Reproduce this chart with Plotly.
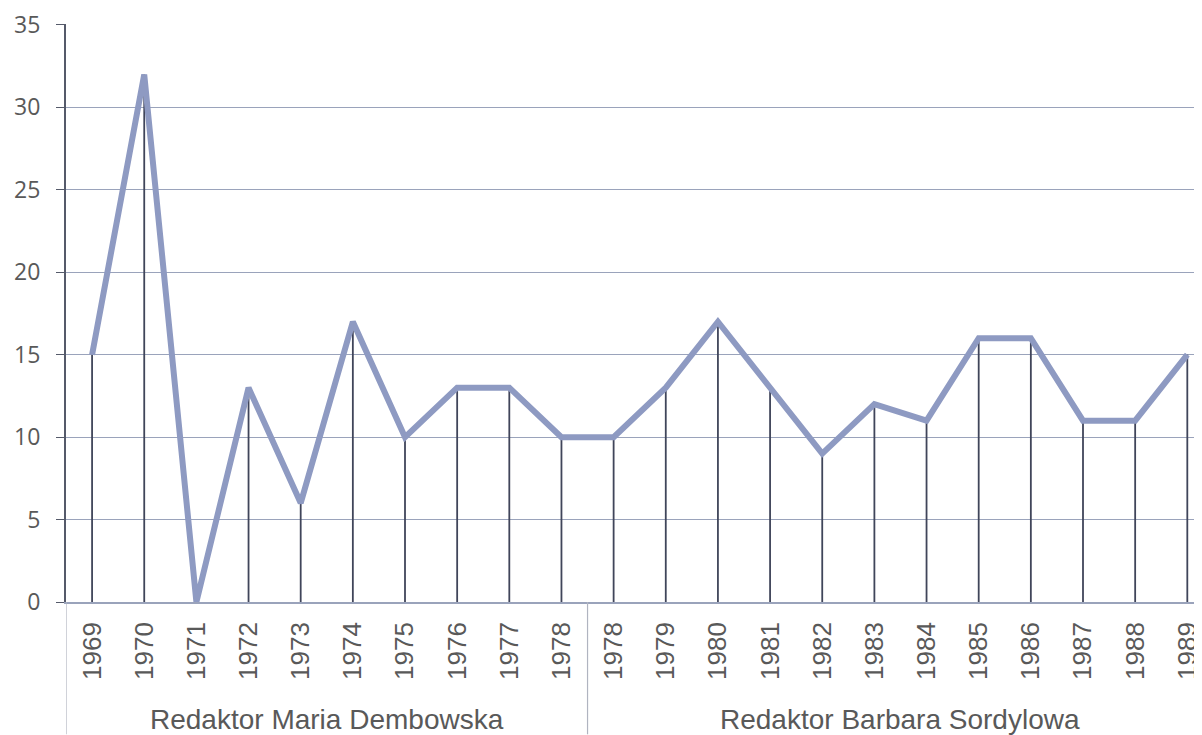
import plotly.graph_objects as go

years = ["1969", "1970", "1971", "1972", "1973", "1974", "1975", "1976", "1977", "1978",
         "1978", "1979", "1980", "1981", "1982", "1983", "1984", "1985", "1986", "1987", "1988", "1989"]
values = [15, 32, 0, 13, 6, 17, 10, 13, 13, 10,
          10, 13, 17, 13, 9, 12, 11, 16, 16, 11, 11, 15]
groups = ["Redaktor Maria Dembowska", "Redaktor Barbara Sordylowa"]
group_sizes = [10, 12]
y_ticks = [0, 5, 10, 15, 20, 25, 30, 35]

xs = list(range(len(years)))
TEXT = "#595959"
FONT = "Liberation Sans, Arial, sans-serif"

fig = go.Figure()
# drop lines
fig.add_trace(go.Scatter(
    x=xs, y=values, mode="markers", marker=dict(size=0.1, color="rgba(0,0,0,0)"),
    error_y=dict(type="data", symmetric=False, array=[0] * len(values), arrayminus=values,
                 thickness=1.8, width=0, color="#40455a"),
    hoverinfo="skip", showlegend=False))
# main line
fig.add_trace(go.Scatter(
    x=xs, y=values, mode="lines", line=dict(color="#8e9ac2", width=6),
    showlegend=False))

# page has an 8px body margin, so the figure is shifted by 8px
W, H = 1194, 727
L, R, T, B = 58, 0, 13, 133
plot_h = H - T - B
step = 52.2

shapes = []
bounds = [-0.5]
acc = -0.5
for n in group_sizes:
    acc += n
    bounds.append(acc)
for bx in bounds:
    shapes.append(dict(type="line", xref="x", yref="paper", x0=bx, x1=bx,
                       y0=0, y1=-B / plot_h, line=dict(color="#b0b4c0", width=1.2)))

annotations = []
start = -0.5
for g, n in zip(groups, group_sizes):
    annotations.append(dict(text=g, xref="x", yref="paper", x=start + n / 2, y=-(712 - 594) / plot_h,
                            yanchor="middle", xanchor="center", showarrow=False,
                            font=dict(family=FONT, size=28, color=TEXT)))
    start += n

fig.update_layout(
    width=W, height=H, autosize=False,
    margin=dict(l=L, r=R, t=T, b=B, pad=0),
    paper_bgcolor="white", plot_bgcolor="white",
    shapes=shapes, annotations=annotations,
    xaxis=dict(range=[-0.5, -0.5 + (W - L) / step], tickvals=xs, ticktext=years,
               tickangle=-90, showgrid=False, zeroline=False,
               showline=True, linecolor="#9aa3bb", linewidth=1.5,
               ticks="", ticklabelstandoff=8, ticklabeloverflow="allow",
               tickfont=dict(family=FONT, size=26, color=TEXT)),
    yaxis=dict(range=[0, 35.06], tickvals=y_ticks, showgrid=True, gridcolor="#9aa3bb",
               gridwidth=1.2, zeroline=False, showline=True, linecolor="#555a6a",
               linewidth=2, ticks="outside", ticklen=8, tickcolor="#555a6a",
               ticklabelstandoff=11, ticklabeloverflow="allow",
               tickfont=dict(family="Open Sans, sans-serif", size=23, color=TEXT)),
)

fig.write_html("out.html")
